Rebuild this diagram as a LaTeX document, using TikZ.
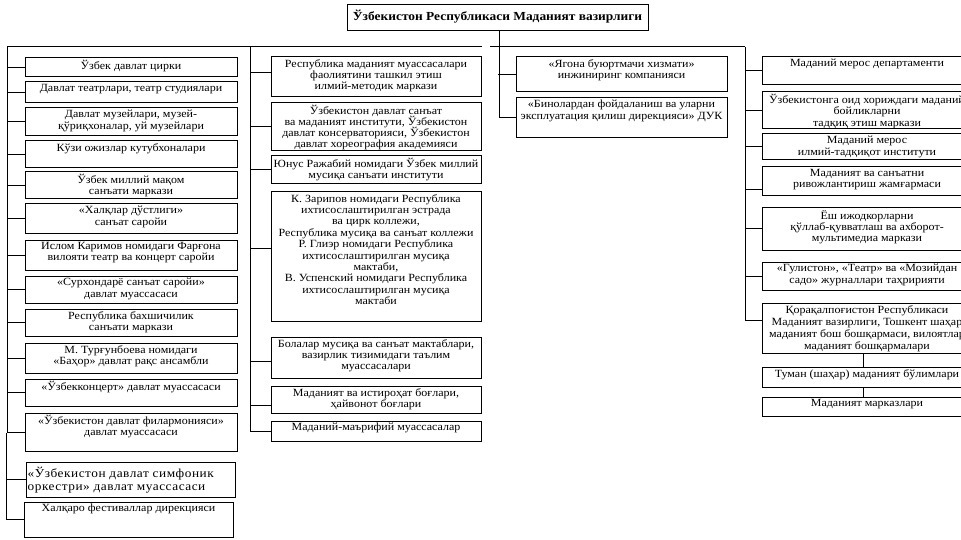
\documentclass[tikz,border=0pt]{standalone}
\usepackage{fontspec}
\setmainfont{Liberation Serif}[FakeStretch=1.09]
\newcommand\tightlines{\lineskiplimit=-20pt\lineskip=0pt}
\tikzset{
  box/.style={draw, line width=1pt, inner sep=0pt, outer sep=0pt},
  txt/.style={align=center, inner sep=0pt, font=\fontsize{11}{11.4}\selectfont\tightlines},
  ln/.style={line width=1pt},
}
\newcommand\bx[6]{%
  \node[box, minimum width={(#4-#2)*1pt}, minimum height={(#5-#3)*1pt}] (#1) at ({(#2+#4)/2},{(#3+#5)/2}) {};
  \node[txt, anchor=north] (#1t) at ([yshift=-2pt]#1.north) {#6};
}
\begin{document}
\begin{tikzpicture}[x=1pt,y=-1pt]
\useasboundingbox (0,0) rectangle (961,540);
\fill[white] (0,0) rectangle (961,540);
% title
\node[box, minimum width=301pt, minimum height=26pt] (title) at (497.5,18) {};
\node[txt, font=\fontsize{12.3}{13}\bfseries\selectfont] (titlet) at ([yshift=1pt]title) {Ўзбекистон Республикаси Маданият вазирлиги};
% column 1
\bx{a1}{25}{58}{237}{77}{Ўзбек давлат цирки}
\bx{a2}{25}{82}{237}{103}{Давлат театрлари, театр студиялари}
\bx{a3}{25}{108}{237}{136}{Давлат музейлари, музей-\\қўриқхоналар, уй музейлари}
\bx{a4}{25}{141}{237}{168}{Кўзи ожизлар кутубхоналари}
\bx{a5}{25}{172}{237}{199}{Ўзбек миллий мақом\\санъати маркази}
\bx{a6}{25}{204}{237}{234}{«Халқлар дўстлиги»\\санъат саройи}
\bx{a7}{25}{240}{237}{270}{Ислом Каримов номидаги Фарғона\\вилояти театр ва концерт саройи}
\bx{a8}{25}{276}{237}{303}{«Сурхондарё санъат саройи»\\давлат муассасаси}
\bx{a9}{25}{309}{237}{336}{Республика бахшичилик\\санъати маркази}
\bx{a10}{25}{343}{237}{373}{М. Турғунбоева номидаги\\«Баҳор» давлат рақс ансамбли}
\bx{a11}{25}{379}{237}{406}{«Ўзбекконцерт» давлат муассасаси}
\bx{a12}{25}{413}{237}{451}{«Ўзбекистон давлат филармонияси»\\давлат муассасаси}
\node[box, minimum width=209pt, minimum height=35pt] (a13) at (130.5,479.5) {};
\node[txt, align=left, anchor=north west, font=\fontsize{12.2}{12.5}\selectfont\addfontfeatures{LetterSpace=4.3}\tightlines] (a13t) at ([xshift=1.5pt,yshift=-5pt]a13.north west) {«Ўзбекистон давлат симфоник\\оркестри» давлат муассасаси};
\bx{a14}{24}{502}{233}{537}{Халқаро фестиваллар дирекцияси}
% column 2
\bx{b1}{271}{57}{481}{97}{Республика маданият муассасалари\\фаолиятини ташкил этиш\\илмий-методик маркази}
\node[box, minimum width=210pt, minimum height=48pt] (b2) at (376,127) {};
\node[txt, anchor=north, font=\fontsize{11}{11}\selectfont\tightlines] (b2t) at ([yshift=-1.5pt]b2.north) {Ўзбекистон давлат санъат\\ва маданият институти, Ўзбекистон\\давлат консерваторияси, Ўзбекистон\\давлат хореография академияси};
\bx{b3}{271}{156}{481}{184}{Юнус Ражабий номидаги Ўзбек миллий\\мусиқа санъати институти}
\bx{b4}{271}{192}{481}{321}{К. Зарипов номидаги Республика\\ихтисослаштирилган эстрада\\ва цирк коллежи,\\Республика мусиқа ва санъат коллежи\\Р. Глиэр номидаги Республика\\ихтисослаштирилган мусиқа\\мактаби,\\В. Успенский номидаги Республика\\ихтисослаштирилган мусиқа\\мактаби}
\bx{b5}{271}{337}{481}{378}{Болалар мусиқа ва санъат мактаблари,\\вазирлик тизимидаги таълим\\муассасалари}
\bx{b6}{271}{386}{481}{413}{Маданият ва истироҳат боғлари,\\ҳайвонот боғлари}
\bx{b7}{271}{421}{481}{441}{Маданий-маърифий муассасалар}
% column 3
\bx{g1}{516}{57}{727}{92}{«Ягона буюртмачи хизмати»\\инжиниринг компанияси}
\bx{g2}{516}{98}{727}{138}{«Бинолардан фойдаланиш ва уларни\\эксплуатация қилиш дирекцияси» ДУК}
% column 4
\bx{r1}{762}{57}{972}{85}{Маданий мерос департаменти}
\bx{r2}{762}{92}{972}{129}{Ўзбекистонга оид хориждаги маданий\\бойликларни\\тадқиқ этиш маркази}
\bx{r3}{762}{134}{972}{160}{Маданий мерос\\илмий-тадқиқот институти}
\bx{r4}{762}{167}{972}{196}{Маданият ва санъатни\\ривожлантириш жамғармаси}
\bx{r5}{762}{208}{972}{250}{Ёш ижодкорларни\\қўллаб-қувватлаш ва ахборот-\\мультимедиа маркази}
\bx{r6}{762}{262}{972}{290}{«Гулистон», «Театр» ва «Мозийдан\\садо» журналлари таҳририяти}
\node[box, minimum width=210pt, minimum height=50pt] (r7) at (867,328) {};
\node[txt, anchor=north, font=\fontsize{11}{12}\selectfont\tightlines] (r7t) at ([yshift=-2pt]r7.north) {Қорақалпоғистон Республикаси\\Маданият вазирлиги, Тошкент шаҳар\\маданият бош бошқармаси, вилоятлар\\маданият бошқармалари};
\bx{r8}{762}{367}{972}{387}{Туман (шаҳар) маданият бўлимлари}
\bx{r9}{762}{397}{972}{416}{Маданият марказлари}
% spine coordinates
\coordinate (L1) at (7,47);
\coordinate (Tm) at (482,47);
\coordinate (L2) at (6,433);
\coordinate (M) at (250,47);
\coordinate (Ra) at (490,47);
\coordinate (R) at (745,47);
% top frame lines
\draw[ln] (L1) -- (Tm);
\draw[ln] (Ra) -- (R);
% column 1
\draw[ln] (L1) -- (L1 |- a12.west);
\draw[ln] (L2) -- (L2 |- a14.west);
\foreach \n in {a1,a2,a3,a4,a5,a6,a7,a8,a9,a10,a11,a12} \draw[ln] (\n.west) -- (\n.west -| L1);
\foreach \n in {a13,a14} \draw[ln] (\n.west) -- (\n.west -| L2);
% column 2
\draw[ln] (M) -- (M |- b7.west);
\draw[ln] ([yshift=4pt]b1.west) -- ([yshift=4pt]b1.west -| M);
\draw[ln] (b2.west) -- (b2.west -| M);
\draw[ln] (b3.west) -- (b3.west -| M);
\draw[ln] ([yshift=8pt]b4.west) -- ([yshift=8pt]b4.west -| M);
\draw[ln] ([yshift=-4pt]b5.west) -- ([yshift=-4pt]b5.west -| M);
\draw[ln] ([yshift=-6pt]b6.west) -- ([yshift=-6pt]b6.west -| M);
\draw[ln] (b7.west) -- (b7.west -| M);
% column 3
\draw[ln] ([xshift=1.5pt]title.south) -- ([xshift=1.5pt]title.south |- g2.west) -- (g2.west);
\draw[ln] (g1.west) -- (g1.west -| title.south);
% column 4
\draw[ln] (R) -- ([yshift=8pt]r7.west -| R) -- ([yshift=8pt]r7.west);
\foreach \n in {r1,r2,r3,r5,r6} \draw[ln] (\n.west) -- (\n.west -| R);
\draw[ln] ([yshift=-8pt]r4.west) -- ([yshift=-8pt]r4.west -| R);
\draw[ln] ([xshift=-4pt]r7.south) -- ([xshift=-4pt]r8.north);
\draw[ln] ([xshift=-4pt]r8.south) -- ([xshift=-4pt]r9.north);
\end{tikzpicture}
\end{document}
